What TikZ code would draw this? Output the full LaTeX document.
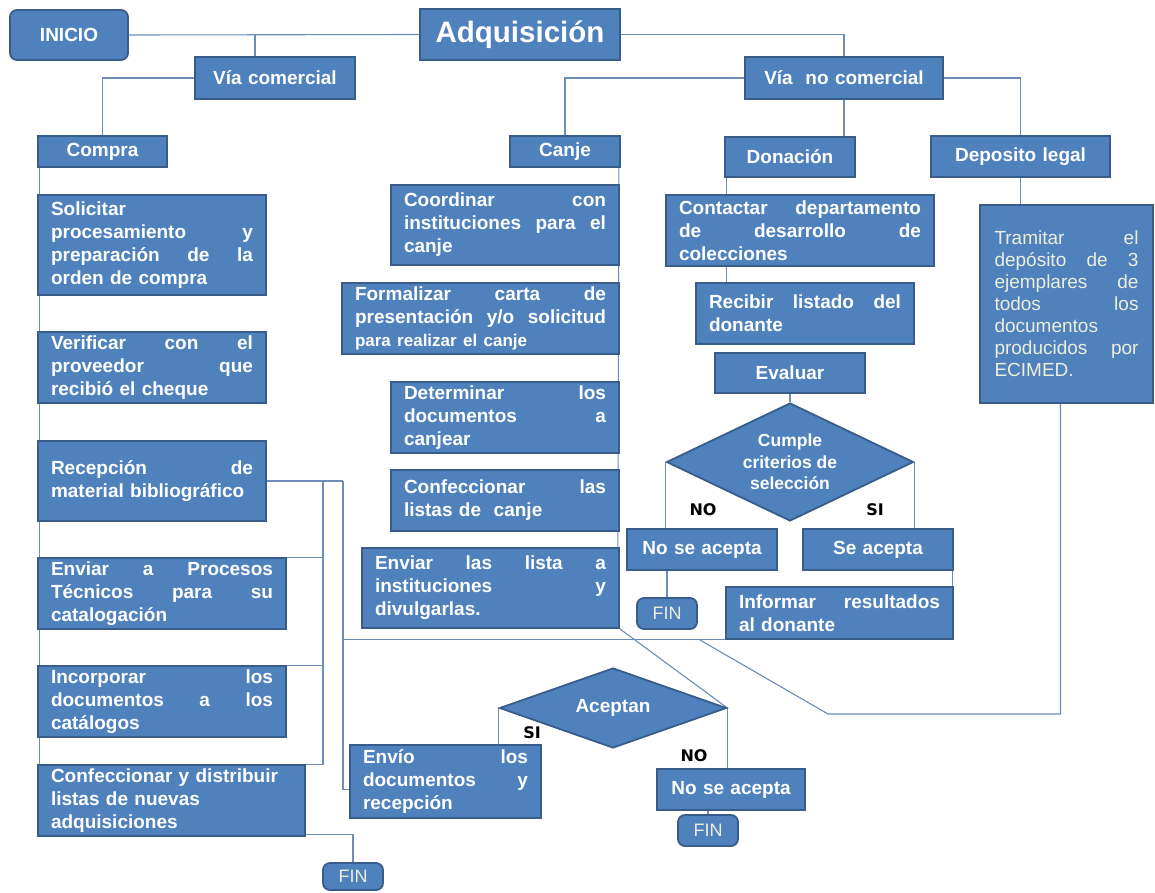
\documentclass[tikz,border=0pt]{standalone}
\usepackage{fontspec}
\setmainfont{Liberation Sans}
\newfontfamily\lblfont{DejaVu Sans}
\usetikzlibrary{shapes.geometric,backgrounds,calc}
\definecolor{boxfill}{RGB}{79,129,189}
\definecolor{boxline}{RGB}{56,93,138}
\definecolor{connc}{RGB}{110,140,185}
\definecolor{fintext}{RGB}{236,238,222}
\tikzset{
  box/.style={draw=boxline, line width=1.8pt, fill=boxfill, text=white, inner sep=0pt,
    font=\bfseries\fontsize{19}{23}\selectfont},
  jbox/.style={box, align=left},
  cbox/.style={box, align=center},
  rbox/.style={box, align=center, rounded corners=7pt},
  finbox/.style={rbox, font=\fontsize{18}{20}\selectfont, text=fintext},
  tbox/.style={box, align=left, font=\fontsize{19}{22}\selectfont, text=fintext},
  dia/.style={box, diamond, align=center, aspect=2.1, font=\bfseries\fontsize{17.5}{21.7}\selectfont},
  conn/.style={draw=connc, line width=1.1pt},
  lbl/.style={font=\lblfont\bfseries\fontsize{16}{18}\selectfont, text=black, inner sep=0pt},
}
\newcommand\mybox[7][jbox]{%
  \pgfmathsetmacro\bxw{#5-#3}%
  \pgfmathsetmacro\bxh{#6-#4}%
  \pgfmathsetmacro\bxt{#5-#3-26}%
  \node[#1, minimum width=\bxw pt, minimum height=\bxh pt, text width=\bxt pt]
    (#2) at ({(#3+#5)/2},{(#4+#6)/2}) {#7};}
\begin{document}
\begin{tikzpicture}[x=1pt,y=-1pt]
\useasboundingbox (0,0) rectangle (1155,892);
% top
\mybox[rbox]{ini}{10}{10}{128}{60}{INICIO}
\mybox[cbox,font=\bfseries\fontsize{29.5}{31}\selectfont]{adq}{420}{9}{620}{60}{Adquisición}
\mybox[cbox]{viacom}{195}{57}{355}{99}{Vía comercial}
\mybox[cbox]{vianc}{745}{57}{943}{99}{Vía\ \ no comercial}
\mybox[cbox]{compra}{38}{136}{167}{167}{Compra}
\mybox[cbox]{canje}{510}{136}{620}{167}{Canje}
\mybox[cbox]{don}{725}{137}{855}{177}{Donación}
\mybox[cbox]{dep}{931}{136}{1110}{177}{Deposito legal}
% compra column
\mybox{sol}{38}{195}{266}{295}{Solicitar\\procesamiento\hfill y\\preparación\hfill de\hfill la\\orden de compra}
\mybox{ver}{38}{332}{266}{403}{Verificar\hfill con\hfill el\\proveedor\hfill que\\recibió el cheque}
\mybox{rec}{38}{441}{266}{521}{Recepción\hfill de\\material bibliográfico}
\mybox{envp}{38}{558}{286}{629}{Enviar\hfill a\hfill Procesos\\Técnicos\hfill para\hfill su\\catalogación}
\mybox{inc}{38}{666}{286}{737}{Incorporar\hfill los\\documentos\hfill a\hfill los\\catálogos}
\mybox{cdist}{38}{765}{305}{836}{Confeccionar y distribuir\\listas de nuevas\\adquisiciones}
\mybox[finbox]{fin1}{323}{863}{383}{890}{FIN}
% canje column
\mybox{coord}{391}{185}{619}{265}{Coordinar\hfill con\\instituciones\hfill para\hfill el\\canje}
\mybox{form}{342}{283}{619}{354}{Formalizar\hfill carta\hfill de\\presentación\hfill y/o\hfill solicitud\\{\fontsize{17}{23}\selectfont para realizar el canje}}
\mybox{det}{391}{382}{619}{453}{Determinar\hfill los\\documentos\hfill a\\canjear}
\mybox{conf}{391}{470}{619}{531}{Confeccionar\hfill las\\listas de\ \ canje}
\mybox{envl}{362}{548}{619}{628}{Enviar\hfill las\hfill lista\hfill a\\instituciones\hfill y\\divulgarlas.}
% donacion column
\mybox{cont}{666}{195}{934}{266}{Contactar\hfill departamento\\de\hfill desarrollo\hfill de\\colecciones}
\mybox{recib}{696}{283}{914}{344}{Recibir\hfill listado\hfill del\\donante}
\mybox[cbox]{eval}{715}{353}{865}{393}{Evaluar}
\node[dia, minimum width=247pt, minimum height=118pt] (cum) at (790,462) {Cumple\\criterios de\\selección};
\mybox[cbox]{nsa1}{627}{529}{777}{570}{No se acepta}
\mybox[cbox]{sa}{803}{529}{953}{570}{Se acepta}
\mybox[finbox]{fin2}{637}{598}{697}{629}{FIN}
\mybox{inf}{726}{587}{953}{639}{Informar\hfill resultados\\al donante}
\node[lbl] (cno) at (703,510) {NO};
\node[lbl] (csi) at (875,510) {SI};
% deposito legal
\node[tbox, minimum width=173pt, minimum height=198pt, text width=144pt] (tram) at (1066.5,304)
  {Tramitar\hfill el\\depósito\hfill de\hfill 3\\ejemplares\hfill de\\todos\hfill los\\documentos\\producidos\hfill por\\ECIMED.};
% aceptan
\node[dia, font=\bfseries\fontsize{19}{22}\selectfont, minimum width=227pt, minimum height=80pt] (acep) at (613,708) {Aceptan};
\mybox{envio}{350}{745}{541}{818}{Envío\hfill los\\documentos\hfill y\\recepción}
\mybox[cbox]{nsa2}{657}{769}{805}{810}{No se acepta}
\mybox[finbox]{fin3}{678}{815}{738}{846}{FIN}
\node[lbl] (asi) at (532,733) {SI};
\node[lbl] (ano) at (694,756) {NO};
% junction points
\coordinate (ja) at (323,481);
\coordinate (jb) at (343,481);
\coordinate (d1) at (700,640);
\coordinate (d2) at (828,714);
\coordinate (tb) at ([xshift=-6pt]tram.south);
\begin{pgfonlayer}{background}
\fill[white] (0,0) rectangle (1155,892);
\draw[conn] (ini.east) -- (adq.west);
\draw[conn] ([xshift=-20pt]viacom.north) -- ([xshift=-20pt]viacom.north |- ini.east);
\draw[conn] (adq.east) -| (vianc.north);
\draw[conn] (viacom.west) -| (compra.north);
\draw[conn] (vianc.west) -| (canje.north);
\draw[conn] (vianc.east) -| (dep.north);
\draw[conn] (vianc.south) -- (vianc.south |- don.north);
\draw[conn] ([xshift=2pt]compra.south west) -- ([xshift=2pt]compra.south west |- cdist.north);
\draw[conn] (rec.east) -- (jb);
\draw[conn] (ja) |- (cdist.north east);
\draw[conn] (envp.north east) -- (envp.north east -| ja);
\draw[conn] (inc.north east) -- (inc.north east -| ja);
\draw[conn] (jb) |- ([yshift=-8pt]envio.west);
\draw[conn] (jb |- inf.south west) -- (inf.south west);
\draw[conn] (envl.south east) -- (acep.east);
\draw[conn] (d1) -- (d2) -- (d2 -| tb) -- (tb);
\draw[conn] ([xshift=-2pt]canje.south east) -- ([xshift=-2pt]envl.north east);
\draw[conn] ([xshift=2pt]don.south west) -- ([xshift=2pt]don.south west |- recib.north);
\draw[conn] (eval.south) -- (cum.north);
\draw[conn] (cum.west) -- (cum.west |- nsa1.north);
\draw[conn] (cum.east) -- (cum.east |- sa.north);
\draw[conn] (nsa1.south -| fin2.north) -- (fin2.north);
\draw[conn] ([xshift=-1pt]sa.south east) -- ([xshift=-1pt]sa.south east |- inf.north);
\draw[conn] (dep.south) -- (dep.south |- tram.north);
\draw[conn] (acep.west) -- (acep.west |- envio.north);
\draw[conn] (acep.east) -- (acep.east |- nsa2.north);
\draw[conn] (nsa2.south -| fin3.north) -- (fin3.north);
\draw[conn] ([yshift=2pt]cdist.south east) -| (fin1.north);
\end{pgfonlayer}
\end{tikzpicture}
\end{document}
